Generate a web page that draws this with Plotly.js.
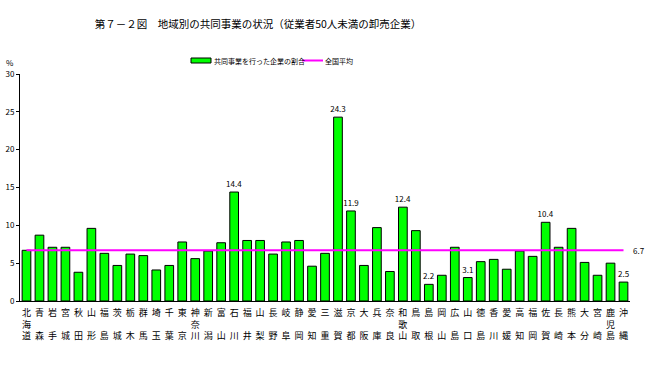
<!DOCTYPE html>
<html><head><meta charset="utf-8">
<script src="https://cdn.plot.ly/plotly-3.0.1.min.js"></script>
<style>body{margin:0;background:#fff}#c{width:647px;height:379px}</style>
</head><body><div id="c"></div>
<script>
const prefectures = ["北海道","青森","岩手","宮城","秋田","山形","福島","茨城","栃木","群馬","埼玉","千葉","東京","神奈川","新潟","富山","石川","福井","山梨","長野","岐阜","静岡","愛知","三重","滋賀","京都","大阪","兵庫","奈良","和歌山","鳥取","島根","岡山","広島","山口","徳島","香川","愛媛","高知","福岡","佐賀","長崎","熊本","大分","宮崎","鹿児島","沖縄"];
const shares = [6.7,8.7,7.1,7.1,3.8,9.6,6.3,4.7,6.2,6.0,4.1,4.7,7.8,5.6,6.6,7.7,14.4,8.0,8.0,6.2,7.8,8.0,4.6,6.3,24.3,11.9,4.7,9.7,3.9,12.4,9.3,2.2,3.4,7.1,3.1,5.2,5.5,4.2,6.6,5.9,10.4,7.1,9.6,5.1,3.4,5.0,2.5];
const labeled = ["石川","滋賀","京都","和歌山","島根","山口","佐賀","沖縄"];
const nationalAvg = 6.7;
const yTicks = [0,5,10,15,20,25,30];
const seriesNames = ["共同事業を行った企業の割合", "全国平均"];
const barColor = '#00FF00', avgColor = '#FF00FF';

const F = '"Noto Sans CJK JP", "Noto Sans", sans-serif';
function vert(n){
  const c = Array.from(n);
  if (c.length === 3) return c.join('<br>');
  return c[0] + '<br>\u3000<br>' + c[1];
}
const idx = prefectures.map((_, i) => i);

const bars = {
  type: 'bar', x: idx, y: shares, name: seriesNames[0],
  marker: {color: barColor, line: {color: '#000', width: 1}},
  text: prefectures.map((p, i) => labeled.includes(p) ? shares[i].toFixed(1) : ''),
  textposition: 'outside', constraintext: 'none',
  textfont: {family: F, size: 8, color: '#000'},
  cliponaxis: false, hoverinfo: 'skip'
};
const avgLine = {
  type: 'scatter', mode: 'lines', x: idx, y: idx.map(() => nationalAvg),
  name: seriesNames[1], line: {color: avgColor, width: 2}, hoverinfo: 'skip'
};

// paper-coordinate helpers (plot area: x 20..630, y 74..301 px)
const px = v => (v - 20) / 610;
const py = v => (301 - v) / 227;

const layout = {
  width: 647, height: 379, autosize: false,
  paper_bgcolor: '#fff', plot_bgcolor: '#fff',
  margin: {l: 20, r: 17, t: 74, b: 78},
  font: {family: F, size: 8, color: '#000'},
  title: {text: '第７－２図　地域別の共同事業の状況（従業者50人未満の卸売企業）',
    font: {family: F, size: 10.5, color: '#000'}, x: 258/647, xanchor: 'center', y: 1 - 24/379, yanchor: 'middle'},
  bargap: 0.33,
  showlegend: false,
  xaxis: {range: [-0.5, prefectures.length - 0.5], tickmode: 'array', tickvals: idx,
    ticktext: prefectures.map(vert), tickfont: {family: F, size: 9, color: '#000'},
    ticklabelstandoff: 3,
    showline: true, linecolor: '#000', linewidth: 1, ticks: '', showgrid: false, zeroline: false,
    tickangle: 0, fixedrange: true},
  yaxis: {range: [0, 30], tickmode: 'array', tickvals: yTicks, ticktext: yTicks.map(String),
    ticks: 'outside', ticklen: 3, tickcolor: '#000', showline: true, linecolor: '#000', linewidth: 1,
    showgrid: false, zeroline: false, tickfont: {family: F, size: 8, color: '#000'}, fixedrange: true},
  shapes: [
    {type: 'rect', xref: 'paper', yref: 'paper', x0: px(191), x1: px(211), y0: py(63), y1: py(58),
     fillcolor: barColor, line: {color: '#000', width: 1}},
    {type: 'line', xref: 'paper', yref: 'paper', x0: px(302), x1: px(323), y0: py(60.5), y1: py(60.5),
     line: {color: avgColor, width: 2}}
  ],
  annotations: [
    {x: prefectures.length - 1, y: nationalAvg, xref: 'x', yref: 'y', text: nationalAvg.toFixed(1),
     showarrow: false, xanchor: 'left', xshift: 7, font: {family: F, size: 8, color: '#000'}},
    {x: px(4), y: py(62), xref: 'paper', yref: 'paper', text: '%', showarrow: false,
     xanchor: 'left', yanchor: 'middle', font: {family: F, size: 8, color: '#000'}},
    {x: px(212), y: py(60.5), xref: 'paper', yref: 'paper', text: seriesNames[0], showarrow: false,
     xanchor: 'left', yanchor: 'middle', font: {family: F, size: 7, color: '#000'}},
    {x: px(323), y: py(60.5), xref: 'paper', yref: 'paper', text: seriesNames[1], showarrow: false,
     xanchor: 'left', yanchor: 'middle', font: {family: F, size: 7, color: '#000'}}
  ]
};

Plotly.newPlot('c', [bars, avgLine], layout, {displayModeBar: false, staticPlot: true});
</script>
</body></html>
